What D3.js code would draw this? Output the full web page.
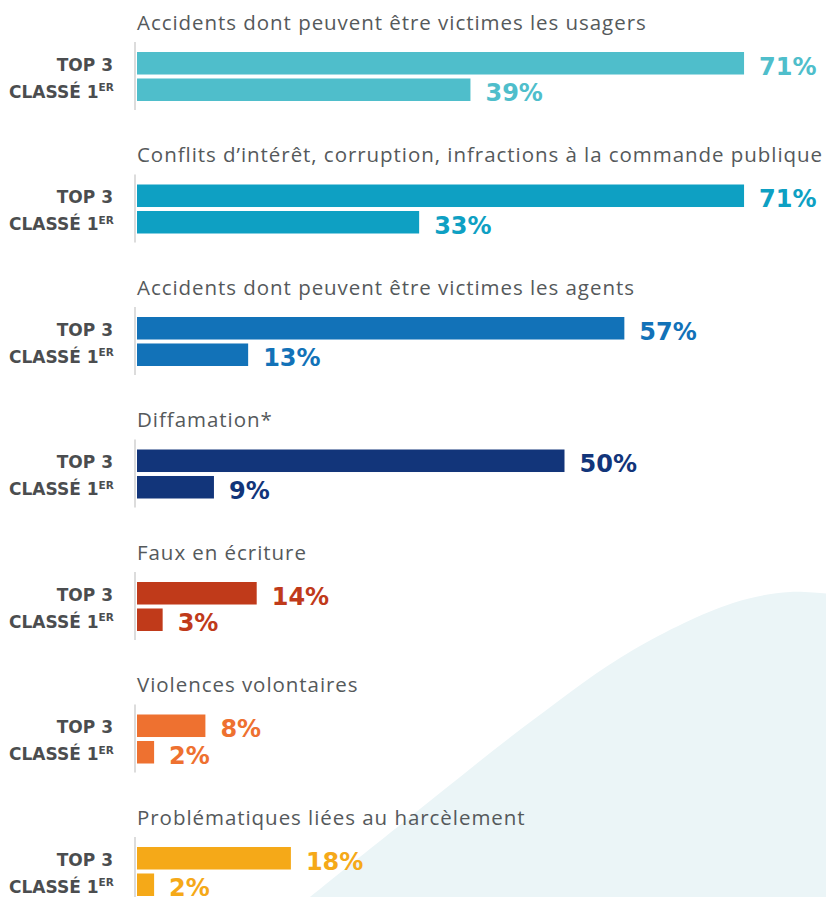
<!DOCTYPE html>
<html lang="fr">
<head>
<meta charset="utf-8">
<script src="https://cdn.jsdelivr.net/npm/d3@7"></script>
<style>
  html, body { margin: 0; padding: 0; background: #ffffff; }
  svg { display: block; }
</style>
</head>
<body>
<svg id="chart" width="826" height="897"></svg>
<script>
// Risques cités : part des répondants qui les placent dans leur top 3, et en 1re position
const categories = [
  "Accidents dont peuvent être victimes les usagers",
  "Conflits d’intérêt, corruption, infractions à la commande publique",
  "Accidents dont peuvent être victimes les agents",
  "Diffamation*",
  "Faux en écriture",
  "Violences volontaires",
  "Problématiques liées au harcèlement"
];
const top3Values  = [71, 71, 57, 50, 14, 8, 18];
const firstValues = [39, 33, 13, 9, 3, 2, 2];
const seriesKeys  = ["top3", "first"];
const seriesLabels = ["TOP 3", "CLASSÉ 1"];
const colors = ["#4fbecb", "#0ea0c3", "#1272b8", "#12357a", "#c03a1a", "#ee7130", "#f5a918"];

const W = 826, H = 897;
const svg = d3.select("#chart");

// Decorative wave in the lower right corner
const wave = [[300, 905], [410, 817], [533, 720], [633, 650], [733, 603], [790, 592], [830, 594]];
const waveLine = d3.line().curve(d3.curveCatmullRom.alpha(0.5));
svg.append("path")
  .attr("d", waveLine(wave) + `L${W + 4},${H + 8}Z`)
  .attr("fill", "#ebf5f7");

// Scales
const x = d3.scaleLinear().domain([0, 100]).range([137, 992]);
const groupY = d3.scaleBand().domain(categories).range([52, 52 + 132.5 * categories.length]).paddingInner(0);
const barY = d3.scaleBand().domain(seriesKeys).range([0, 49]).paddingInner(0.15);

const rows = categories.map((c, i) => ({
  name: c, color: colors[i],
  values: [{ key: "top3", v: top3Values[i] }, { key: "first", v: firstValues[i] }]
}));

const g = svg.selectAll("g.group").data(rows).join("g")
  .attr("class", "group")
  .attr("transform", d => `translate(0,${groupY(d.name)})`);

// Category title
g.append("text")
  .attr("x", 137).attr("y", -22.5)
  .attr("font-family", "'Open Sans', sans-serif")
  .attr("font-size", 20.5)
  .attr("letter-spacing", 0.95)
  .attr("fill", "#55595b")
  .text(d => d.name);

// Vertical baseline
g.append("line")
  .attr("x1", 135).attr("x2", 135)
  .attr("y1", -10)
  .attr("y2", (d, i) => i === rows.length - 1 ? H - groupY(d.name) + 5 : 58)
  .attr("stroke", "#dcdcdc").attr("stroke-width", 2);

// Row labels
g.selectAll("text.rowlab").data(seriesKeys).join("text")
  .attr("class", "rowlab")
  .attr("x", 113)
  .attr("y", k => k === "top3" ? 18.5 : 45.5)
  .attr("text-anchor", "end")
  .attr("font-family", "'DejaVu Sans', sans-serif")
  .attr("font-weight", "bold")
  .attr("font-size", 17)
  .attr("fill", "#4b4d4f")
  .text((k, i) => seriesLabels[i]);
g.selectAll("text.rowlab").filter(k => k === "first")
  .attr("text-anchor", "start").attr("x", 9)
  .append("tspan")
  .attr("font-size", 10.5).attr("dy", -6.5)
  .text("ER");

// Bars
g.selectAll("rect.bar").data(d => d.values.map(v => ({ ...v, color: d.color }))).join("rect")
  .attr("class", "bar")
  .attr("x", x(0))
  .attr("y", d => barY(d.key))
  .attr("width", d => x(d.v) - x(0))
  .attr("height", barY.bandwidth())
  .attr("fill", d => d.color);

// Value labels
g.selectAll("text.val").data(d => d.values.map(v => ({ ...v, color: d.color }))).join("text")
  .attr("class", "val")
  .attr("x", d => x(d.v) + 15)
  .attr("y", d => d.key === "top3" ? 22.5 : 49)
  .attr("font-family", "'DejaVu Sans', sans-serif")
  .attr("font-weight", "bold")
  .attr("font-size", 24)
  .attr("fill", d => d.color)
  .text(d => d.v + "%");
</script>
</body>
</html>
